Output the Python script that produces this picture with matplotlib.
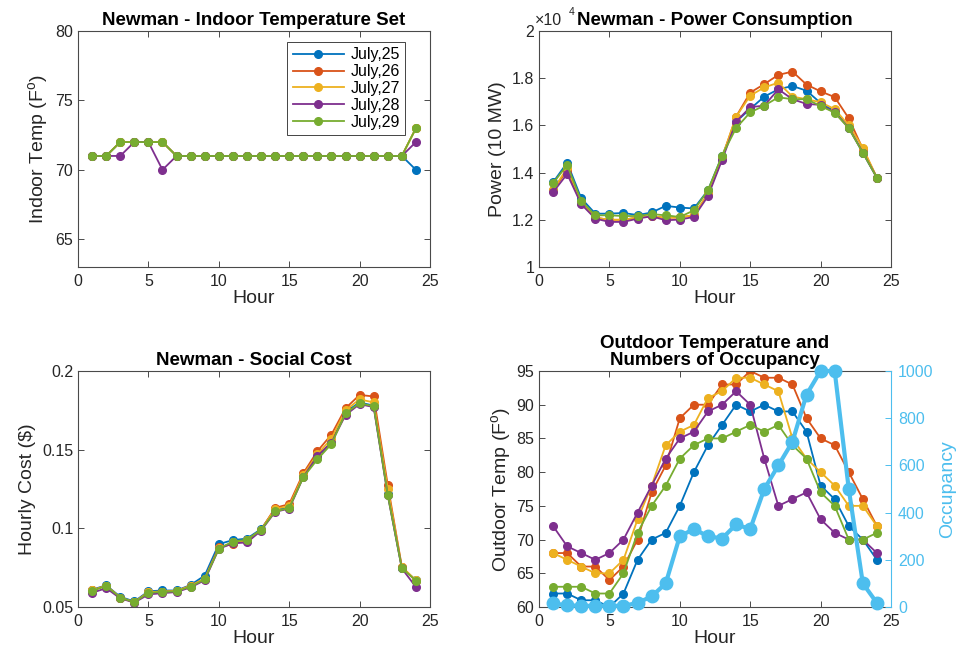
import numpy as np
import matplotlib
matplotlib.use("Agg")
import matplotlib.pyplot as plt
from matplotlib.ticker import FuncFormatter

plt.rcParams['font.family'] = ['Liberation Sans', 'DejaVu Sans']
plt.rcParams['mathtext.fontset'] = 'custom'
plt.rcParams['mathtext.rm'] = 'Liberation Sans'
plt.rcParams['mathtext.it'] = 'Liberation Sans:italic'

# data
hours = list(range(1, 25))
days = ['July,25', 'July,26', 'July,27', 'July,28', 'July,29']
colors = ['#0072BD', '#D95319', '#EDB120', '#7E2F8E', '#77AC30']
occ_color = '#4DBEEE'

indoor = [
    [71, 71, 72, 72, 72, 72, 71, 71, 71, 71, 71, 71, 71, 71, 71, 71, 71, 71, 71, 71, 71, 71, 71, 70],
    [71, 71, 72, 72, 72, 72, 71, 71, 71, 71, 71, 71, 71, 71, 71, 71, 71, 71, 71, 71, 71, 71, 71, 73],
    [71, 71, 72, 72, 72, 72, 71, 71, 71, 71, 71, 71, 71, 71, 71, 71, 71, 71, 71, 71, 71, 71, 71, 73],
    [71, 71, 71, 72, 72, 70, 71, 71, 71, 71, 71, 71, 71, 71, 71, 71, 71, 71, 71, 71, 71, 71, 71, 72],
    [71, 71, 72, 72, 72, 72, 71, 71, 71, 71, 71, 71, 71, 71, 71, 71, 71, 71, 71, 71, 71, 71, 71, 73],
]

power = [
    [1.359, 1.442, 1.291, 1.226, 1.226, 1.229, 1.220, 1.231, 1.259, 1.252, 1.248, 1.325,
     1.470, 1.616, 1.670, 1.722, 1.753, 1.767, 1.747, 1.695, 1.660, 1.590, 1.485, 1.378],
    [1.326, 1.410, 1.270, 1.209, 1.200, 1.200, 1.210, 1.215, 1.209, 1.210, 1.219, 1.310,
     1.460, 1.637, 1.739, 1.775, 1.814, 1.828, 1.773, 1.744, 1.720, 1.630, 1.500, 1.378],
    [1.326, 1.420, 1.275, 1.209, 1.200, 1.200, 1.210, 1.215, 1.209, 1.210, 1.220, 1.310,
     1.465, 1.637, 1.726, 1.761, 1.781, 1.722, 1.711, 1.698, 1.669, 1.600, 1.506, 1.378],
    [1.317, 1.394, 1.266, 1.205, 1.191, 1.191, 1.205, 1.215, 1.198, 1.201, 1.212, 1.300,
     1.453, 1.616, 1.677, 1.684, 1.753, 1.711, 1.691, 1.687, 1.655, 1.590, 1.485, 1.378],
    [1.355, 1.432, 1.280, 1.219, 1.219, 1.216, 1.216, 1.224, 1.219, 1.212, 1.240, 1.325,
     1.472, 1.589, 1.655, 1.684, 1.719, 1.711, 1.711, 1.682, 1.654, 1.588, 1.484, 1.378],
]

cost = [
    [0.0610, 0.0638, 0.0565, 0.0535, 0.0600, 0.0605, 0.0605, 0.0640, 0.0700, 0.0900, 0.0925, 0.0935,
     0.0995, 0.1120, 0.1135, 0.1330, 0.1450, 0.1550, 0.1740, 0.1800, 0.1780, 0.1220, 0.0750, 0.0670],
    [0.0605, 0.0636, 0.0560, 0.0530, 0.0595, 0.0598, 0.0602, 0.0635, 0.0680, 0.0880, 0.0900, 0.0925,
     0.0990, 0.1130, 0.1154, 0.1350, 0.1490, 0.1596, 0.1763, 0.1848, 0.1838, 0.1275, 0.0755, 0.0665],
    [0.0605, 0.0636, 0.0560, 0.0530, 0.0595, 0.0598, 0.0602, 0.0635, 0.0680, 0.0875, 0.0910, 0.0925,
     0.0990, 0.1125, 0.1140, 0.1340, 0.1470, 0.1570, 0.1750, 0.1820, 0.1800, 0.1250, 0.0755, 0.0670],
    [0.0590, 0.0620, 0.0555, 0.0528, 0.0580, 0.0588, 0.0595, 0.0625, 0.0670, 0.0870, 0.0905, 0.0910,
     0.0985, 0.1105, 0.1125, 0.1325, 0.1460, 0.1545, 0.1720, 0.1790, 0.1770, 0.1210, 0.0745, 0.0627],
    [0.0602, 0.0634, 0.0560, 0.0530, 0.0590, 0.0596, 0.0600, 0.0630, 0.0676, 0.0871, 0.0916, 0.0927,
     0.0990, 0.1107, 0.1129, 0.1324, 0.1438, 0.1536, 0.1731, 0.1795, 0.1776, 0.1213, 0.0746, 0.0668],
]

outdoor = [
    [62, 62, 61, 61, 60, 62, 67, 70, 71, 75, 80, 84, 87, 90, 89, 90, 89, 89, 86, 78, 76, 72, 70, 67],
    [68, 68, 66, 66, 64, 66, 70, 77, 81, 88, 90, 90, 93, 93, 95, 94, 94, 93, 88, 85, 84, 80, 76, 72],
    [68, 67, 66, 65, 65, 67, 73, 78, 84, 86, 87, 91, 92, 94, 94, 93, 92, 85, 82, 80, 78, 75, 75, 72],
    [72, 69, 68, 67, 68, 70, 74, 78, 82, 85, 86, 89, 90, 92, 90, 82, 75, 76, 77, 73, 71, 70, 70, 68],
    [63, 63, 63, 62, 62, 65, 71, 75, 78, 82, 84, 85, 85, 86, 87, 86, 87, 84, 82, 77, 75, 70, 70, 71],
]

occupancy = [15, 7, 5, 5, 5, 5, 17, 45, 100, 300, 330, 300, 290, 350, 330, 500,
             600, 700, 900, 1000, 1000, 500, 100, 17]

TXT = '#262626'
TICK_FS = 11.5
LAB_FS = 14
TITLE_FS = 13.5


def style(ax):
    for s in ax.spines.values():
        s.set_color('#4a4a4a')
        s.set_linewidth(0.8)
    ax.tick_params(direction='in', length=4, width=0.7, colors='#4a4a4a',
                   labelcolor=TXT, labelsize=TICK_FS, top=True, right=True)
    ax.tick_params(axis='x', pad=5)
    ax.set_xlim(0, 25)
    ax.set_xticks([0, 5, 10, 15, 20, 25])
    ax.set_xlabel('Hour', fontsize=LAB_FS, color=TXT, labelpad=1)


fig = plt.figure(figsize=(9.64, 6.56), dpi=100)
W, H = 964, 656


def box(x0, y0, x1, y1):
    return [x0 / W, 1 - y1 / H, (x1 - x0) / W, (y1 - y0) / H]


ax1 = fig.add_axes(box(78, 31, 430, 267))
ax2 = fig.add_axes(box(539, 31, 891, 267))
ax3 = fig.add_axes(box(78, 371, 430, 607))
ax4 = fig.add_axes(box(539, 371, 891, 607))

lk = dict(lw=1.3, marker='o', ms=5.5)

# indoor temperature
for d, c, y in zip(days, colors, indoor):
    ax1.plot(hours, y, color=c, label=d, **lk)
style(ax1)
ax1.set_ylim(63, 80)
ax1.set_yticks([65, 70, 75, 80])
ax1.set_ylabel('Indoor Temp (F$^{\\mathrm{o}}$)', fontsize=LAB_FS, color=TXT)
ax1.set_title('Newman - Indoor Temperature Set', fontsize=TITLE_FS, fontweight='bold', color='k', pad=4)
leg = ax1.legend(loc='upper right', bbox_to_anchor=(0.93, 0.955), borderaxespad=0,
                 fontsize=11.5, handlelength=3.2, labelspacing=0.12, fancybox=False,
                 borderpad=0.35, handletextpad=0.4, framealpha=1)
leg.get_frame().set_edgecolor('#262626')
leg.get_frame().set_linewidth(0.6)

# power
for d, c, y in zip(days, colors, power):
    ax2.plot(hours, y, color=c, **lk)
style(ax2)
ax2.set_ylim(1, 2)
ax2.set_yticks([1, 1.2, 1.4, 1.6, 1.8, 2])
ax2.yaxis.set_major_formatter(FuncFormatter(lambda v, p: '%g' % v))
ax2.set_ylabel('Power (10 MW)', fontsize=LAB_FS, color=TXT)
fig.text(535 / W, 1 - 25 / H, '\u00d710', fontsize=TICK_FS, color=TXT, zorder=1)
fig.text(569 / W, 1 - 15 / H, '4', fontsize=7.5, color=TXT, zorder=1)
ax2.set_title('Newman - Power Consumption', fontsize=TITLE_FS, fontweight='bold', color='k', pad=4)

# social cost
for d, c, y in zip(days, colors, cost):
    ax3.plot(hours, y, color=c, **lk)
style(ax3)
ax3.set_ylim(0.05, 0.2)
ax3.set_yticks([0.05, 0.1, 0.15, 0.2])
ax3.yaxis.set_major_formatter(FuncFormatter(lambda v, p: '%g' % v))
ax3.set_ylabel('Hourly Cost (\\$)', fontsize=LAB_FS, color=TXT)
ax3.set_title('Newman - Social Cost', fontsize=TITLE_FS, fontweight='bold', color='k', pad=4)

# outdoor temperature and occupancy
for d, c, y in zip(days, colors, outdoor):
    ax4.plot(hours, y, color=c, **lk)
style(ax4)
ax4.tick_params(right=False)
ax4.set_ylim(60, 95)
ax4.set_yticks(range(60, 96, 5))
ax4.set_ylabel('Outdoor Temp (F$^{\\mathrm{o}}$)', fontsize=LAB_FS, color=TXT, labelpad=2)
ax4.set_title('Outdoor Temperature and\nNumbers of Occupancy', fontsize=TITLE_FS,
              fontweight='bold', color='k', pad=4, linespacing=1.05)

ax5 = ax4.twinx()
ax5.plot(hours, occupancy, color=occ_color, lw=3, marker='o', ms=9, clip_on=False)
ax5.set_ylim(0, 1000)
ax5.set_yticks(range(0, 1001, 200))
ax5.set_xlim(0, 25)
for s in ax5.spines.values():
    s.set_visible(False)
ax5.spines['right'].set_visible(True)
ax5.spines['right'].set_color(occ_color)
ax5.spines['right'].set_linewidth(0.8)
ax5.tick_params(direction='in', length=4, width=0.7, colors=occ_color,
                labelcolor=occ_color, labelsize=TICK_FS, pad=5)
ax5.set_ylabel('Occupancy', fontsize=LAB_FS, color=occ_color, labelpad=4)
ax4.spines['right'].set_visible(False)

fig.savefig('out.png', dpi=100)
